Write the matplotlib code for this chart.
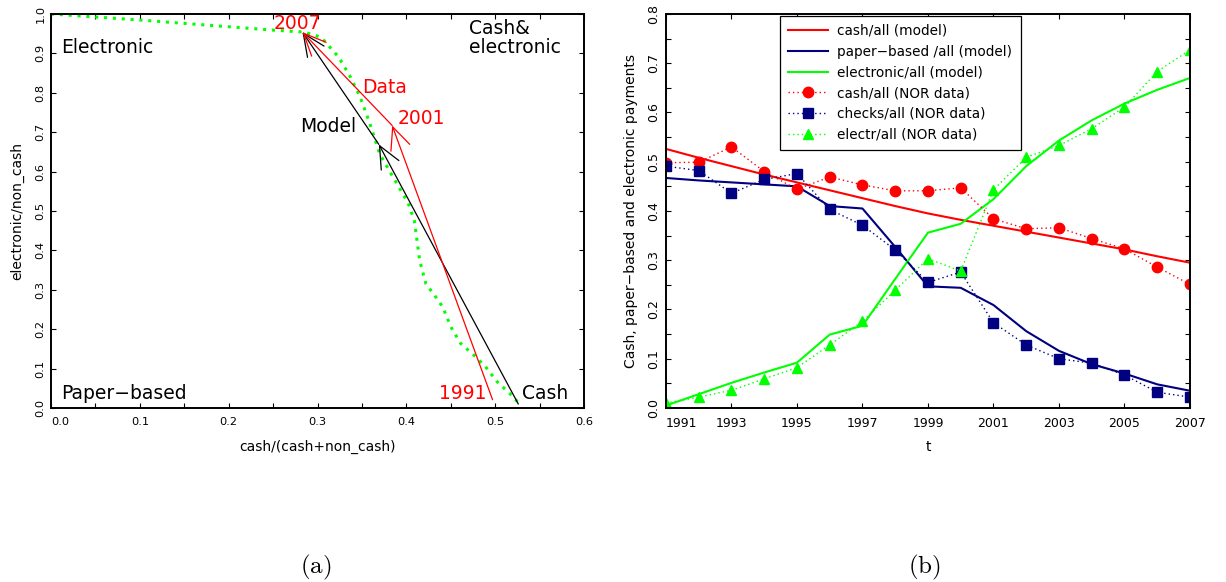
import matplotlib
matplotlib.use("Agg")
import matplotlib.pyplot as plt
from matplotlib.ticker import MultipleLocator, FixedLocator

plt.rcParams["mathtext.fontset"] = "cm"

# ---- panel (a): trajectory in (cash share, electronic/non_cash) plane ----
path_x = [0.0, 0.098, 0.25, 0.285, 0.304, 0.324, 0.337, 0.348, 0.359, 0.370,
          0.385, 0.402, 0.409, 0.415, 0.422, 0.433, 0.441, 0.450, 0.461, 0.476,
          0.489, 0.502, 0.520, 0.526]
path_y = [1.0, 0.985, 0.959, 0.954, 0.941, 0.890, 0.840, 0.789, 0.721, 0.645,
          0.586, 0.520, 0.475, 0.374, 0.315, 0.282, 0.256, 0.206, 0.164, 0.134,
          0.105, 0.067, 0.029, 0.013]
model_x = [0.526, 0.369, 0.283]
model_y = [0.010, 0.669, 0.954]
data_x = [0.497, 0.384, 0.283]
data_y = [0.021, 0.717, 0.954]

# ---- panel (b): shares over time ----
years = list(range(1991, 2008))
cash_model = [0.526, 0.508, 0.491, 0.474, 0.458, 0.442, 0.426, 0.410, 0.395,
              0.382, 0.370, 0.358, 0.346, 0.334, 0.322, 0.308, 0.295]
paper_model = [0.467, 0.462, 0.458, 0.454, 0.450, 0.410, 0.405, 0.327, 0.247,
               0.244, 0.209, 0.156, 0.116, 0.089, 0.070, 0.048, 0.035]
electr_model = [0.005, 0.028, 0.051, 0.072, 0.092, 0.149, 0.167, 0.262, 0.356,
                0.374, 0.424, 0.491, 0.543, 0.584, 0.618, 0.646, 0.670]
cash_data = [0.498, 0.499, 0.530, 0.480, 0.444, 0.469, 0.453, 0.441, 0.441,
             0.447, 0.384, 0.364, 0.366, 0.344, 0.323, 0.286, 0.251]
checks_data = [0.491, 0.482, 0.436, 0.464, 0.476, 0.403, 0.371, 0.321, 0.255,
               0.276, 0.173, 0.128, 0.100, 0.091, 0.067, 0.032, 0.022]
electr_data = [0.010, 0.022, 0.036, 0.059, 0.082, 0.128, 0.176, 0.239, 0.303,
               0.278, 0.443, 0.509, 0.533, 0.567, 0.611, 0.683, 0.727]

RED = "#ff0000"
GREEN = "#00ff00"
NAVY = "#000080"

fig = plt.figure(figsize=(12.26, 5.82), dpi=100)
ax1 = fig.add_axes([0.0416, 0.299, 0.4348, 0.677])
ax2 = fig.add_axes([0.5432, 0.299, 0.4274, 0.677])


def style_axes(ax, tick_size):
    for sp in ax.spines.values():
        sp.set_linewidth(1.4)
    ax.tick_params(which="both", direction="in", top=True, right=True,
                   length=3.6, width=0.8, labelsize=tick_size)
    ax.tick_params(axis="x", pad=6.5)
    ax.tick_params(axis="y", pad=4)
    for lbl in ax.get_yticklabels():
        lbl.set_rotation(90)
        lbl.set_va("center")
    ax.xaxis.get_major_ticks()[0].label1.set_horizontalalignment("left")


# panel (a)
ax1.plot(path_x, path_y, color=GREEN, lw=2.2, dashes=(1, 1.9),
         dash_capstyle="butt", zorder=2)
for xs, ys, col in [(model_x, model_y, "black"), (data_x, data_y, RED)]:
    for i in range(len(xs) - 1):
        ax1.annotate("", xy=(xs[i + 1], ys[i + 1]), xytext=(xs[i], ys[i]),
                     arrowprops=dict(arrowstyle="->,head_length=1.0,head_width=0.45",
                                     color=col, lw=0.9, shrinkA=0, shrinkB=0,
                                     mutation_scale=16),
                     zorder=3)

ax1.set_xlim(0, 0.6)
ax1.set_ylim(0, 1.0)
ax1.xaxis.set_major_locator(FixedLocator([0.0, 0.1, 0.2, 0.3, 0.4, 0.5, 0.6]))
ax1.xaxis.set_minor_locator(MultipleLocator(0.05))
ax1.yaxis.set_major_locator(MultipleLocator(0.1))
ax1.xaxis.set_major_formatter(plt.FormatStrFormatter("%.1f"))
ax1.yaxis.set_major_formatter(plt.FormatStrFormatter("%.1f"))
style_axes(ax1, 8.2)
ax1.set_xlabel("cash/(cash+non_cash)", fontsize=10, labelpad=9)
ax1.set_ylabel("electronic/non_cash", fontsize=10, labelpad=8)

tsize = 13.5
ax1.text(0.011, 0.915, "Electronic", fontsize=tsize, va="center")
ax1.text(0.471, 0.94, "Cash&\nelectronic", fontsize=tsize, va="center",
         linespacing=1.0)
ax1.text(0.011, 0.038, "Paper\u2212based", fontsize=tsize, va="center")
ax1.text(0.530, 0.038, "Cash", fontsize=tsize, va="center")
ax1.text(0.437, 0.038, "1991", fontsize=tsize, va="center", color=RED)
ax1.text(0.251, 0.975, "2007", fontsize=tsize, va="center", color=RED)
ax1.text(0.350, 0.8125, "Data", fontsize=tsize, va="center", color=RED)
ax1.text(0.390, 0.734, "2001", fontsize=tsize, va="center", color=RED)
ax1.text(0.280, 0.715, "Model", fontsize=tsize, va="center")

# panel (b)
ax2.plot(years, cash_model, color=RED, lw=1.5, label="cash/all (model)")
ax2.plot(years, paper_model, color=NAVY, lw=1.5, label="paper\u2212based /all (model)")
ax2.plot(years, electr_model, color=GREEN, lw=1.5, label="electronic/all (model)")
ax2.plot(years, cash_data, color=RED, lw=1.0, ls=(0, (1, 2.2)), marker="o",
         ms=7.5, label="cash/all (NOR data)")
ax2.plot(years, checks_data, color=NAVY, lw=1.0, ls=(0, (1, 2.2)), marker="s",
         ms=6.5, label="checks/all (NOR data)")
ax2.plot(years, electr_data, color=GREEN, lw=1.0, ls=(0, (1, 2.2)), marker="^",
         ms=7.5, label="electr/all (NOR data)")

ax2.set_xlim(1991, 2007)
ax2.set_ylim(0, 0.8)
ax2.xaxis.set_major_locator(FixedLocator(list(range(1991, 2008, 2))))
ax2.yaxis.set_major_locator(MultipleLocator(0.1))
ax2.yaxis.set_minor_locator(MultipleLocator(0.05))
ax2.yaxis.set_major_formatter(plt.FormatStrFormatter("%.1f"))
style_axes(ax2, 9)
ax2.set_xlabel("t", fontsize=10, labelpad=7)
ax2.set_ylabel("Cash, paper\u2212based and electronic payments", fontsize=10,
               labelpad=7)

leg = ax2.legend(loc="upper left", bbox_to_anchor=(0.218, 0.996),
                 borderaxespad=0, fontsize=9.8, fancybox=False,
                 edgecolor="black", framealpha=1, handlelength=2.9,
                 handletextpad=0.7, labelspacing=0.5, numpoints=1,
                 borderpad=0.6)
leg.get_frame().set_linewidth(0.9)

fig.text(0.2575, 0.015, r"$\mathrm{(a)}$", fontsize=18, ha="center")
fig.text(0.7537, 0.015, r"$\mathrm{(b)}$", fontsize=18, ha="center")

fig.savefig("out.png", dpi=100)
